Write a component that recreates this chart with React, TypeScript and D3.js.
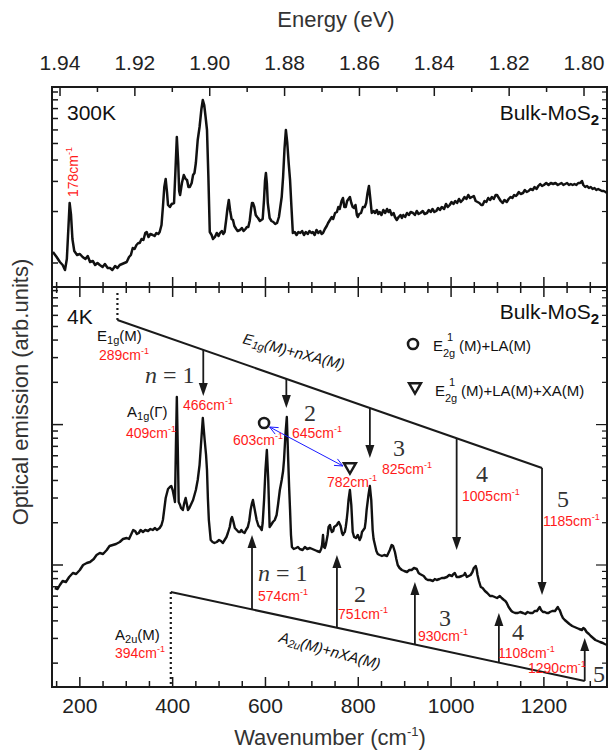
import React from 'react';
import * as d3 from 'd3';

// ---------- data ----------
const E_LASER = 1.9595; // eV
const EV_PER_CM = 1.23984e-4;

const energyTicks = [1.80, 1.81, 1.82, 1.83, 1.84, 1.85, 1.86, 1.87, 1.88, 1.89, 1.90, 1.91, 1.92, 1.93, 1.94];
const energyLabels = [1.80, 1.82, 1.84, 1.86, 1.88, 1.90, 1.92, 1.94];
const wavenumberLabels = [200, 400, 600, 800, 1000, 1200];

// 300K spectrum: [wavenumber cm-1, intensity arb.]
const spectrum300K: [number, number][] = [
  [142,17.5],[150,15],[157,12.5],[163,11],[168,8.5],[172,14],[175,28],[178,42],[181,36],[184,24],[188,18],[194,16],
  [200,16.5],[206,15],[212,14],[217,15.5],[222,12.5],[228,13],[233,11],[238,12],[243,11],[249,10],[254,11.5],[260,9.5],
  [265,9.5],[270,8.5],[276,10.5],[281,9.5],[286,11],[291,11.5],[296,12],[301,12.5],[306,15],[310,16],[314,19.5],[318,19],
  [322,21],[326,22],[329,22],[333,24],[337,23.5],[341,27],[344,27.5],[348,25],[352,26.5],[357,26],[361,25.5],[365,27],
  [369,26.5],[372,27.5],[376,31],[379,40],[382,50],[385,54],[388,47],[390,41],[394,40],[398,41.5],[403,42],[406,58],
  [409,75],[412,62],[414,48],[416,46],[420,52],[424,56],[428,54],[431,53.5],[434,50],[437,50],[441,52],[444,56],[447,57],
  [450,62],[454,73.5],[458,80],[462,89],[465,93.5],[468,91],[471,85],[474,78.5],[477,55],[480,27.5],[484,26],[487,24],
  [491,25],[495,27],[499,25.5],[502,27],[506,28],[509,26.5],[512,27.5],[515,33],[518,39],[521,43.5],[524,38],[527,34],
  [530,33.5],[533,30.5],[537,29],[540,28],[545,28.5],[549,29.5],[553,28],[557,29],[560,30],[563,30],[566,33],[569,39],
  [571,42],[573,42],[576,40],[579,36],[582,35],[584,34.5],[588,33],[591,33.5],[594,34],[597,44],[599,53],[601,57],
  [603,52],[605,42],[609,34.5],[613,33],[617,32.5],[621,31.5],[625,32],[629,35],[632,40],[635,45],[638,55],[641,69],
  [644,78.5],[647,72],[650,62],[653,53.5],[656,40],[659,27],[663,27.5],[667,26],[671,27.5],[675,27],[679,28],[683,26],
  [687,27.5],[691,26.5],[695,28],[699,27],[702,27.5],[706,26],[710,28.5],[714,27],[718,28],[721,26.5],[724,27],[728,29],
  [732,30.5],[735,32],[739,33.5],[743,35],[746,34],[750,37],[754,37.5],[757,40],[760,39],[764,43],[767,44.5],[770,40],
  [773,40],[776,43],[779,44],[782,45],[785,42],[788,40],[791,39.5],[794,41],[797,36],[799,35],[802,36.5],[806,37],
  [810,40],[814,40],[817,42],[820,47],[823,50.5],[826,44],[829,37],[833,38],[836,37],[840,38.5],[843,36.5],[846,37.5],
  [850,36],[854,38.5],[858,37],[862,39],[865,37.5],[868,38.5],[872,36],[876,37],[879,35],[883,33.5],[887,35],[891,36],
  [894,34.5],[897,36],[901,35],[905,37],[909,36],[913,37.5],[918,37],[922,36],[926,38],[930,36.5],[934,37],[939,38],
  [943,36.5],[948,37],[952,38.5],[956,37.5],[960,39],[964,37.5],[968,38],[972,39.5],[976,38.5],[980,40],[985,39],
  [989,41.5],[993,40],[997,41],[1001,42.5],[1005,41.5],[1009,43],[1013,42],[1017,44],[1021,42.5],[1025,43.5],[1029,45],
  [1033,44],[1037,46],[1041,44.5],[1045,45],[1049,45.5],[1053,43],[1057,42.5],[1061,42],[1065,41],[1068,41],[1072,43],
  [1076,42.5],[1080,44.5],[1084,43.5],[1088,45],[1092,44],[1096,46],[1099,46],[1103,44.5],[1107,43],[1111,42],
  [1115,43.5],[1120,42.5],[1124,44],[1128,45],[1132,44.5],[1136,46],[1140,45.5],[1142,46],[1146,47.5],[1150,46.5],
  [1155,47],[1159,48.5],[1163,47.5],[1167,48],[1171,49],[1176,48.5],[1180,50],[1184,49],[1188,50.5],[1192,51.5],
  [1196,50.5],[1200,51],[1205,52],[1210,51],[1215,52],[1220,51.5],[1225,52],[1230,51],[1234,51.5],[1238,52],[1242,51],
  [1246,51.5],[1250,52],[1254,51],[1258,51.5],[1262,51],[1266,51.5],[1270,51],[1274,52],[1278,52],[1282,53],[1285,51],
  [1289,50],[1293,50.5],[1297,49.5],[1301,50],[1305,49],[1309,49.5],[1313,48.5],[1317,49],[1321,48.5],[1325,48],
  [1329,48],[1333,47.5],[1336,47],
];

// 4K spectrum: [wavenumber cm-1, intensity arb. (log display)]
const spectrum4K: [number, number][] = [
  [146,24.75],[152,24.5],[157,25.5],[163,26.5],[170,26.25],[177,27.5],[185,28.5],[192,28.25],[200,29.25],[207,30.5],
  [215,31],[222,31.25],[230,32],[236,33],[243,33.5],[250,33.25],[258,34.25],[264,35.25],[271,35.5],[278,35.75],
  [286,36.25],[293,37],[301,37.25],[306,37],[310,38],[315,39.25],[319,39],[323,38.25],[327,38.5],[331,39.25],
  [336,38.75],[341,39.25],[347,39],[352,39.5],[357,39.25],[362,39.75],[366,39.25],[372,39.75],[376,40.5],[379,41.75],
  [382,44.5],[385,47.25],[390,49.5],[394,50],[397,50.25],[400,49.25],[403,47.5],[405,46.25],[407,60],[409,72.5],
  [411,60],[413,46.25],[416,45.5],[418,44.75],[422,44.25],[425,46],[428,47.25],[431,45.5],[433,44.25],[436,44.75],
  [439,45.5],[444,46.75],[447,48],[450,49.25],[454,51.75],[458,55.5],[461,60.5],[465,67.25],[469,61.75],[472,58],
  [474,54.25],[476,47],[478,41.75],[482,36.75],[486,36.25],[490,36],[495,36.25],[500,36.75],[504,36.5],[508,36],
  [512,36.75],[516,37.5],[519,38.5],[523,40],[526,42],[528,42.5],[531,41.25],[534,39.75],[538,39.25],[542,38.75],
  [545,38.75],[548,39.25],[551,38.75],[555,38.5],[558,39.25],[562,40],[565,41.5],[568,44.25],[571,46],[573,46.75],
  [575,45.5],[577,44.25],[581,41.75],[585,40.25],[588,40],[592,39.25],[594,41],[597,46.75],[600,54.25],[603,59.25],
  [606,51.75],[608,44],[609,40],[612,40.5],[616,41.25],[620,41.75],[624,43],[627,45.5],[631,49.25],[635,51.75],
  [638,54],[640,56.75],[643,63],[646,67.5],[649,56.75],[651,50],[653,44.25],[655,38],[657,35],[661,34.5],[666,34.75],
  [670,35],[674,34.5],[680,34.25],[685,35],[690,34.5],[696,34.75],[701,34.5],[706,34.25],[711,34],[717,33.75],
  [720,34.5],[722,35.5],[724,38],[726,35],[728,34.75],[730,35.5],[732,36.75],[734,38],[736,40],[739,40.5],[741,39.5],
  [743,38.75],[746,39],[748,40],[751,40.25],[754,40.5],[756,41],[758,41.25],[760,40.75],[762,40.25],[765,38.5],
  [767,38],[769,38.5],[771,38.75],[773,40],[775,41.75],[777,44],[779,46.75],[782,49.25],[785,45.5],[788,38.75],
  [791,37.5],[795,37.25],[799,38],[803,36.75],[806,37.5],[808,38.75],[811,39.25],[814,39.75],[816,41.5],[818,44.25],
  [822,48],[825,50.25],[828,46.75],[831,39.25],[833,37],[836,35.5],[839,34],[842,33.25],[846,33],[851,32.75],
  [856,33],[862,32.75],[865,33.5],[868,34.25],[872,35.5],[875,35.25],[877,34.5],[879,33.75],[882,32],[885,30.5],
  [889,29.75],[894,29.25],[899,29],[905,28.75],[910,29.25],[915,29.25],[920,29.75],[926,29.5],[930,28.5],[933,28.25],
  [937,28],[941,27.75],[946,27],[950,26.75],[955,26.75],[961,26.5],[965,27],[969,26.75],[975,27],[980,27.25],
  [985,27.25],[991,27.5],[996,28],[1002,27.75],[1005,28.25],[1008,28.5],[1010,28],[1012,27.5],[1017,27.5],
  [1023,27.75],[1028,28],[1030,28.5],[1034,27.5],[1038,27.75],[1042,28],[1046,28.75],[1049,29.75],[1053,30.25],
  [1055,29.5],[1057,28],[1060,26.5],[1064,25],[1068,24.75],[1073,24],[1078,23.5],[1084,22.75],[1089,22.75],
  [1094,22.5],[1099,22.25],[1105,22.75],[1109,22.25],[1114,21.75],[1117,21.5],[1120,21],[1124,20],[1127,19.5],
  [1130,19],[1133,18.75],[1138,18.5],[1144,18.5],[1149,18.75],[1155,18.5],[1160,18.25],[1165,18.75],[1170,18.5],
  [1176,18.5],[1180,19],[1185,19],[1188,19.5],[1191,20],[1194,19.25],[1198,18.75],[1202,18.75],[1206,18.5],
  [1210,18.5],[1213,18.75],[1218,19],[1224,19],[1227,19.5],[1230,20],[1232,19.5],[1234,19.25],[1238,18],[1241,17.25],
  [1245,16.75],[1250,16.25],[1255,15.75],[1261,15.25],[1266,15],[1271,14.75],[1276,14.5],[1282,14.25],[1285,14.75],
  [1288,14.5],[1292,13.75],[1297,13.25],[1301,12.75],[1306,12.25],[1311,11.75],[1316,11.5],[1321,11.25],[1327,11],
  [1331,10.75],[1336,10.5],
];

// E1g(M)+nXA(M) series (downward arrows)
const e1gLine: [number, number][] = [[281, 91.75], [1196, 54.75]];
const e1gDotTop = 98.5;
const e1gArrowWn = [466, 645, 825, 1012, 1196];
const e1gArrowTip = [72.75, 69.75, 57.25, 34.25, 23];

// A2u(M)+nXA(M) series (upward arrows)
const a2uLine: [number, number][] = [[396, 23.75], [1288, 1.5]];
const a2uArrowWn = [571, 754, 922, 1103, 1288];
const a2uArrowTip = [38, 33, 26.25, 18.5, 12.25];

// markers
const circleMark: [number, number] = [597, 66];
const triangleMark: [number, number] = [782, 54.75];
const blueLink: [number, number][] = [[609, 65], [767, 55.25]];

const FONT = 'Liberation Sans, Arial, Helvetica, sans-serif';
const SERIF = 'Liberation Serif, Times New Roman, serif';
const RED = '#ff1a1a';
const INK = '#1a1a1a';

function Cm({ x, y, v, anchor = 'start' }: { x: number; y: number; v: string; anchor?: string }) {
  return (
    <text x={x} y={y} fill={RED} fontSize={14} fontFamily={FONT} textAnchor={anchor as any}>
      {v}cm<tspan fontSize={9} dy={-6}>-1</tspan>
    </text>
  );
}

function Arrow({ x, y0, y1 }: { x: number; y0: number; y1: number }) {
  const dir = Math.sign(y1 - y0);
  const hl = 13, hw = 4.5;
  return (
    <g>
      <line x1={x} x2={x} y1={y0} y2={y1 - dir * hl} stroke={INK} strokeWidth={1.8} />
      <path d={`M${x},${y1} L${x - hw},${y1 - dir * hl} L${x + hw},${y1 - dir * hl} Z`} fill={INK} />
    </g>
  );
}

export default function App() {
  const W = 608, H = 751;
  const L = 52, R = 607, T = 87, M = 287, B = 687;

  const x = d3.scaleLinear().domain([140, 1336]).range([L, R]);
  const eScale = d3.scaleLinear()
    .domain([E_LASER - 140 * EV_PER_CM, E_LASER - 1336 * EV_PER_CM])
    .range([L, R]);
  const yTop = d3.scaleLinear().domain([0, 100]).range([M, T]);
  const yBot = d3.scaleLinear().domain([0, 100]).range([B, M]);
  const topLog = d3.scaleLog().domain([1, 10]).range([12, 97.5]);
  const botLog = d3.scaleLog().domain([1e3, 1e4]).range([30.5, 65.6]);

  const line = (ys: d3.ScaleLinear<number, number>) =>
    d3.line<[number, number]>().x(d => x(d[0])).y(d => ys(d[1])).curve(d3.curveLinear);

  const topPath = line(yTop)(spectrum300K) || '';
  const botPath = line(yBot)(spectrum4K) || '';

  const e1gY = d3.scaleLinear().domain([e1gLine[0][0], e1gLine[1][0]]).range([e1gLine[0][1], e1gLine[1][1]]);
  const a2uY = d3.scaleLinear().domain([a2uLine[0][0], a2uLine[1][0]]).range([a2uLine[0][1], a2uLine[1][1]]);

  // log ticks
  const topTicks = d3.range(1, 11).map(k => yTop(topLog(k)));
  const botTicks: { y: number; major: boolean }[] = [];
  [100, 1000, 10000].forEach(base => {
    for (let k = 1; k <= 9; k++) {
      const v = botLog(base * k);
      if (v >= 0.5 && v <= 99.5) botTicks.push({ y: yBot(v), major: k === 1 });
    }
  });
  const wnTicks = d3.range(150, 1336, 50);

  // blue link arrow geometry
  const bx1 = x(blueLink[0][0]), by1 = yBot(blueLink[0][1]);
  const bx2 = x(blueLink[1][0]), by2 = yBot(blueLink[1][1]);
  const ang = Math.atan2(by2 - by1, bx2 - bx1);
  const head = (px: number, py: number, a: number) => {
    const s = 9, w = 0.42;
    return `M${px + s * Math.cos(a + w)},${py + s * Math.sin(a + w)} L${px},${py} L${px + s * Math.cos(a - w)},${py + s * Math.sin(a - w)}`;
  };

  const tri = (cx: number, cy: number, s = 6) =>
    `M${cx - s},${cy - s * 0.8} L${cx + s},${cy - s * 0.8} L${cx},${cy + s * 0.95} Z`;

  return (
    <svg width={W} height={H} style={{ position: 'absolute', left: 0, top: 0, background: '#fff' }} fontFamily={FONT}>
      <rect x={0} y={0} width={W} height={H} fill="#fff" />

      {/* titles */}
      <text x={336} y={27} fontSize={22} textAnchor="middle" fill="#333">Energy (eV)</text>
      <text x={330} y={745} fontSize={22} textAnchor="middle" fill="#333">
        Wavenumber (cm<tspan fontSize={13} dy={-9}>-1</tspan><tspan dy={9}>)</tspan>
      </text>
      <text transform={`translate(28,392) rotate(-90)`} fontSize={22} textAnchor="middle" fill="#333">
        Optical emission (arb.units)
      </text>

      {/* energy axis labels */}
      {energyLabels.map(e => (
        <text key={'el' + e} x={eScale(e)} y={70} fontSize={21} textAnchor="middle" fill="#222">{e.toFixed(2)}</text>
      ))}
      {energyTicks.map((e, i) => (
        <line key={'et' + i} x1={eScale(e)} x2={eScale(e)} y1={T} y2={T + (i % 2 === 0 ? 9 : 5)} stroke={INK} strokeWidth={1.5} />
      ))}

      {/* wavenumber axis labels */}
      {wavenumberLabels.map(w => (
        <text key={'wl' + w} x={x(w)} y={713} fontSize={21} textAnchor="middle" fill="#222">{w}</text>
      ))}
      {wnTicks.map(w => (
        <g key={'wt' + w}>
          <line x1={x(w)} x2={x(w)} y1={B} y2={B - (w % 200 === 0 ? 10 : 6)} stroke={INK} strokeWidth={1.5} />
          <line x1={x(w)} x2={x(w)} y1={w % 200 === 0 ? M - 10 : M - 5} y2={w % 200 === 0 ? M + 10 : M + 6} stroke={INK} strokeWidth={1.5} />
        </g>
      ))}

      {/* left/right log ticks */}
      {topTicks.map((y, i) => (
        <g key={'tt' + i}>
          <line x1={L} x2={L + 6} y1={y} y2={y} stroke={INK} strokeWidth={1.5} />
          <line x1={R} x2={R - 5} y1={y} y2={y} stroke={INK} strokeWidth={1.2} />
        </g>
      ))}
      {botTicks.map((t, i) => (
        <g key={'bt' + i}>
          <line x1={L} x2={L + (t.major ? 11 : 6)} y1={t.y} y2={t.y} stroke={INK} strokeWidth={1.5} />
          <line x1={R} x2={R - (t.major ? 11 : 5)} y1={t.y} y2={t.y} stroke={INK} strokeWidth={1.2} />
        </g>
      ))}

      {/* frame */}
      <rect x={L} y={T} width={R - L} height={B - T} fill="none" stroke={INK} strokeWidth={2} />
      <line x1={L} x2={R} y1={M} y2={M} stroke={INK} strokeWidth={2} />

      {/* spectra */}
      <path d={topPath} fill="none" stroke="#111" strokeWidth={2.5} strokeLinejoin="round" />
      <path d={botPath} fill="none" stroke="#111" strokeWidth={2.4} strokeLinejoin="round" />

      {/* top panel labels */}
      <text x={67} y={120} fontSize={21} fill="#111">300K</text>
      <text x={599} y={120} fontSize={21} fill="#111" textAnchor="end">
        Bulk-MoS<tspan fontSize={15} fontWeight="bold" dy={5}>2</tspan>
      </text>
      <text transform={`translate(78,172) rotate(-90)`} fontSize={14} fill={RED} textAnchor="middle">
        178cm<tspan fontSize={9} dy={-6}>-1</tspan>
      </text>

      {/* bottom panel labels */}
      <text x={67} y={324} fontSize={21} fill="#111">4K</text>
      <text x={599} y={319} fontSize={21} fill="#111" textAnchor="end">
        Bulk-MoS<tspan fontSize={15} fontWeight="bold" dy={5}>2</tspan>
      </text>

      {/* E1g series */}
      <line x1={x(e1gLine[0][0])} x2={x(e1gLine[0][0])} y1={yBot(e1gDotTop)} y2={yBot(e1gLine[0][1])}
        stroke={INK} strokeWidth={2.2} strokeDasharray="2,3" />
      <line x1={x(e1gLine[0][0])} y1={yBot(e1gLine[0][1])} x2={x(e1gLine[1][0])} y2={yBot(e1gLine[1][1])}
        stroke={INK} strokeWidth={2} />
      {e1gArrowWn.map((w, i) => (
        <Arrow key={'da' + i} x={x(w)} y0={yBot(e1gY(w))} y1={yBot(e1gArrowTip[i])} />
      ))}

      {/* A2u series */}
      <line x1={x(a2uLine[0][0])} x2={x(a2uLine[0][0])} y1={yBot(a2uLine[0][1])} y2={B}
        stroke={INK} strokeWidth={2.2} strokeDasharray="2,3" />
      <line x1={x(a2uLine[0][0])} y1={yBot(a2uLine[0][1])} x2={x(a2uLine[1][0])} y2={yBot(a2uLine[1][1])}
        stroke={INK} strokeWidth={2} />
      {a2uArrowWn.map((w, i) => (
        <Arrow key={'ua' + i} x={x(w)} y0={yBot(a2uY(w))} y1={yBot(a2uArrowTip[i])} />
      ))}

      {/* markers */}
      <circle cx={x(circleMark[0])} cy={yBot(circleMark[1])} r={5} fill="none" stroke={INK} strokeWidth={2.6} />
      <path d={tri(x(triangleMark[0]), yBot(triangleMark[1]))} fill="none" stroke={INK} strokeWidth={2.4} strokeLinejoin="miter" />
      <line x1={bx1} y1={by1} x2={bx2} y2={by2} stroke="#1a1aff" strokeWidth={1} />
      <path d={head(bx1, by1, ang)} fill="none" stroke="#1a1aff" strokeWidth={1} />
      <path d={head(bx2, by2, ang + Math.PI)} fill="none" stroke="#1a1aff" strokeWidth={1} />

      {/* legend */}
      <circle cx={413} cy={344} r={5} fill="none" stroke={INK} strokeWidth={2.6} />
      <text x={433} y={351} fontSize={15} fill="#111">E</text>
      <text x={447} y={341} fontSize={11} fill="#111">1</text>
      <text x={443} y={357} fontSize={11} fill="#111">2g</text>
      <text x={459} y={351} fontSize={15} fill="#111">(M)+LA(M)</text>
      <path d={tri(415, 388)} fill="none" stroke={INK} strokeWidth={2.4} />
      <text x={435} y={396} fontSize={15} fill="#111">E</text>
      <text x={449} y={386} fontSize={11} fill="#111">1</text>
      <text x={445} y={402} fontSize={11} fill="#111">2g</text>
      <text x={461} y={396} fontSize={15} fill="#111">(M)+LA(M)+XA(M)</text>

      {/* black mode labels */}
      <text x={97} y={341} fontSize={15} fill="#111">E<tspan fontSize={11} dy={3}>1g</tspan><tspan dy={-3}>(M)</tspan></text>
      <text x={127} y={417} fontSize={15} fill="#111">A<tspan fontSize={11} dy={3}>1g</tspan><tspan dy={-3}>(Γ)</tspan></text>
      <text x={115} y={640} fontSize={15} fill="#111">A<tspan fontSize={11} dy={3}>2u</tspan><tspan dy={-3}>(M)</tspan></text>

      <text transform="translate(294,351) rotate(14.5)" fontSize={15} fontStyle="italic" fill="#111" textAnchor="middle" dominantBaseline="central">
        E<tspan fontSize={11} dy={4}>1g</tspan><tspan dy={-4}>(M)+nXA(M)</tspan>
      </text>
      <text transform="translate(330,650) rotate(15)" fontSize={15} fontStyle="italic" fill="#111" textAnchor="middle" dominantBaseline="central">
        A<tspan fontSize={11} dy={4}>2u</tspan><tspan dy={-4}>(M)+nXA(M)</tspan>
      </text>

      {/* serif order numbers */}
      <g fontFamily={SERIF} fontSize={24} fill="#333">
        <text x={145} y={383}><tspan fontStyle="italic">n</tspan> = 1</text>
        <text x={310} y={421} textAnchor="middle">2</text>
        <text x={399} y={456} textAnchor="middle">3</text>
        <text x={482} y={482} textAnchor="middle">4</text>
        <text x={563} y={507} textAnchor="middle">5</text>
        <text x={258} y={581}><tspan fontStyle="italic">n</tspan> = 1</text>
        <text x={360} y={602} textAnchor="middle">2</text>
        <text x={445} y={626} textAnchor="middle">3</text>
        <text x={518} y={640} textAnchor="middle">4</text>
        <text x={599} y={682} textAnchor="middle">5</text>
      </g>

      {/* red wavenumber labels */}
      <Cm x={99} y={360} v="289" />
      <Cm x={183} y={410} v="466" />
      <Cm x={126} y={438} v="409" />
      <Cm x={292} y={438} v="645" />
      <Cm x={233} y={445} v="603" />
      <Cm x={327} y={487} v="782" />
      <Cm x={382} y={474} v="825" />
      <Cm x={462} y={501} v="1005" />
      <Cm x={543} y={526} v="1185" />
      <Cm x={258} y={601} v="574" />
      <Cm x={338} y={619} v="751" />
      <Cm x={418} y={641} v="930" />
      <Cm x={498} y={658} v="1108" />
      <Cm x={528} y={673} v="1290" />
      <Cm x={115} y={658} v="394" />
    </svg>
  );
}
